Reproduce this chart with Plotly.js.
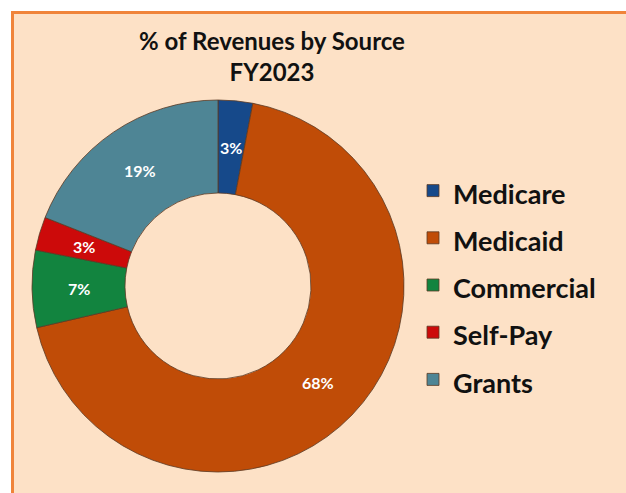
<!DOCTYPE html>
<html>
<head>
<meta charset="utf-8">
<script src="https://cdn.plot.ly/plotly-3.0.1.min.js"></script>
<style>
  html, body { margin: 0; padding: 0; background: #ffffff; overflow: hidden; width: 626px; height: 493px; }
  #frame { position: absolute; left: 11px; top: 11px; border-left: 3px solid #F0843A; border-top: 3px solid #F0843A; width: 620px; height: 490px; overflow: hidden; }
  #chart { width: 620px; height: 490px; }
</style>
</head>
<body>
<div id="frame"><div id="chart"></div></div>
<script>
// Data
const categories = ["Medicare", "Medicaid", "Commercial", "Self-Pay", "Grants"];
const shares = [3.0, 68.4, 6.7, 2.9, 19.0];
const sliceColors = ["#16498A", "#C04C07", "#12843F", "#CC0A0A", "#4E8595"];
const titleText = "% of Revenues by Source<br>FY2023";

const W = 620, H = 490;
const cx = 204, cy = 272, R = 186;
const HOLE = 0.5;

const trace = {
  type: "pie",
  // legend entries: smaller text inside a taller line box to match the reference spacing
  labels: categories.map(c => "<span style='font-size:27px'>" + c + "</span>"),
  values: shares,
  sort: false,
  direction: "clockwise",
  rotation: 0,
  hole: HOLE,
  domain: { x: [(cx - R) / W, (cx + R) / W], y: [1 - (cy + R) / H, 1 - (cy - R) / H] },
  marker: { colors: sliceColors, line: { color: "#5a3a25", width: 0.8 } },
  textinfo: "none",
  hoverinfo: "percent"
};

// percentage labels at the middle of each ring segment, derived from the shares
const total = shares.reduce((a, b) => a + b, 0);
const rLabel = R * (1 + HOLE) / 2;
let cum = 0;
const annotations = shares.map(v => {
  const mid = (cum + v / 2) / total * 2 * Math.PI;
  cum += v;
  return {
    xref: "paper", yref: "paper",
    x: (cx + rLabel * Math.sin(mid)) / W,
    y: 1 - (cy - rLabel * Math.cos(mid)) / H,
    text: Math.round(v / total * 100) + "%",
    showarrow: false,
    xanchor: "center", yanchor: "middle",
    font: { family: "Lato, 'Open Sans', sans-serif", size: 16, color: "#ffffff", weight: 700 }
  };
});

const layout = {
  width: W, height: H,
  margin: { l: 0, r: 0, t: 0, b: 0 },
  paper_bgcolor: "#FDE1C6",
  plot_bgcolor: "#FDE1C6",
  title: {
    text: titleText,
    font: { family: "Lato, 'Open Sans', sans-serif", size: 24, color: "#111111", weight: 700 },
    x: 258 / W, xanchor: "center", xref: "container",
    y: 1 - 36 / H, yanchor: "top", yref: "container"
  },
  showlegend: true,
  legend: {
    x: 399 / W, xanchor: "left",
    y: 1 - 148 / H, yanchor: "top",
    bgcolor: "rgba(0,0,0,0)",
    font: { family: "Lato, 'Open Sans', sans-serif", size: 34, color: "#111111", weight: 700 },
    itemwidth: 30,
    traceorder: "normal"
  },
  annotations: annotations
};

Plotly.newPlot("chart", [trace], layout, { staticPlot: true });
</script>
</body>
</html>
